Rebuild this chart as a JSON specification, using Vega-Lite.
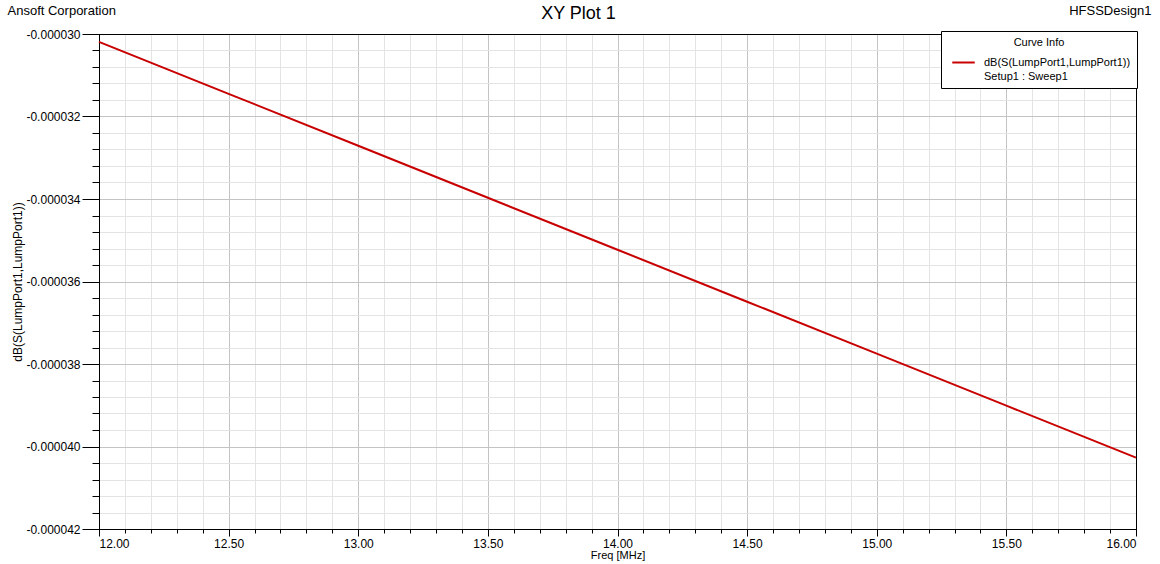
{
  "$schema": "https://vega.github.io/schema/vega-lite/v6.json",
  "width": 1037,
  "height": 495,
  "autosize": {"type": "none"},
  "padding": {"left": 99, "top": 34, "right": 24, "bottom": 35},
  "background": "white",
  "data": {"values": [
    {"freq": 12.0, "val": -0.00003019, "curve": "dB(S(LumpPort1,LumpPort1))"},
    {"freq": 12.5, "val": -0.00003145, "curve": "dB(S(LumpPort1,LumpPort1))"},
    {"freq": 13.0, "val": -0.00003271, "curve": "dB(S(LumpPort1,LumpPort1))"},
    {"freq": 13.5, "val": -0.00003397, "curve": "dB(S(LumpPort1,LumpPort1))"},
    {"freq": 14.0, "val": -0.00003523, "curve": "dB(S(LumpPort1,LumpPort1))"},
    {"freq": 14.5, "val": -0.00003649, "curve": "dB(S(LumpPort1,LumpPort1))"},
    {"freq": 15.0, "val": -0.00003775, "curve": "dB(S(LumpPort1,LumpPort1))"},
    {"freq": 15.5, "val": -0.00003901, "curve": "dB(S(LumpPort1,LumpPort1))"},
    {"freq": 16.0, "val": -0.00004027, "curve": "dB(S(LumpPort1,LumpPort1))"}
  ]},
  "config": {
    "view": {"stroke": "black", "strokeWidth": 1},
    "axis": {"labelFont": "Liberation Sans", "titleFont": "Liberation Sans", "labelColor": "black", "titleColor": "black", "titleFontWeight": "normal", "domainColor": "black", "tickColor": "black", "labelFontSize": 12}
  },
  "layer": [
    {
      "mark": {"type": "line", "opacity": 0},
      "encoding": {
        "x": {"field": "freq", "type": "quantitative", "scale": {"domain": [12, 16], "nice": false, "zero": false},
          "axis": {"orient": "bottom", "values": [12.1,12.2,12.3,12.4,12.6,12.7,12.8,12.9,13.1,13.2,13.3,13.4,13.6,13.7,13.8,13.9,14.1,14.2,14.3,14.4,14.6,14.7,14.8,14.9,15.1,15.2,15.3,15.4,15.6,15.7,15.8,15.9],
            "grid": true, "gridColor": "#e4e4e4", "gridWidth": 1, "gridOpacity": 1, "ticks": true, "tickSize": 4, "labels": false, "domain": false, "title": null}},
        "y": {"field": "val", "type": "quantitative", "scale": {"domain": [-0.000042, -0.00003], "nice": false, "zero": false},
          "axis": {"orient": "left", "values": [-0.0000416,-0.0000412,-0.0000408,-0.0000404,-0.0000396,-0.0000392,-0.0000388,-0.0000384,-0.0000376,-0.0000372,-0.0000368,-0.0000364,-0.0000356,-0.0000352,-0.0000348,-0.0000344,-0.0000336,-0.0000332,-0.0000328,-0.0000324,-0.0000316,-0.0000312,-0.0000308,-0.0000304],
            "grid": true, "gridColor": "#e4e4e4", "gridWidth": 1, "gridOpacity": 1, "ticks": true, "tickSize": 7, "labels": false, "domain": false,
            "title": "Ansoft Corporation", "titleFontSize": 13, "titleAngle": 0, "titleAnchor": "start", "titleAlign": "left", "titleX": -92, "titleY": -20, "titleBaseline": "alphabetic"}}
      }
    },
    {
      "mark": {"type": "line", "strokeWidth": 2},
      "encoding": {
        "x": {"field": "freq", "type": "quantitative", "scale": {"domain": [12, 16], "nice": false, "zero": false},
          "axis": {"orient": "bottom", "values": [12, 12.5, 13, 13.5, 14, 14.5, 15, 15.5, 16], "format": ".2f",
            "grid": true, "gridColor": {"condition": {"test": "datum.value == 12 || datum.value == 16", "value": "black"}, "value": "#c4c4c4"}, "gridWidth": 1, "gridOpacity": 1,
            "tickSize": 7, "labelPadding": 2, "labelFontSize": 12, "domain": true, "domainWidth": 1,
            "title": "Freq [MHz]", "titleFontSize": 11, "titleY": 29, "titleBaseline": "alphabetic"}},
        "y": {"field": "val", "type": "quantitative", "scale": {"domain": [-0.000042, -0.00003], "nice": false, "zero": false},
          "axis": {"orient": "left", "values": [-0.000042, -0.00004, -0.000038, -0.000036, -0.000034, -0.000032, -0.00003],
            "labelExpr": "'-' + format(abs(datum.value), '.6f')",
            "grid": true, "gridColor": {"condition": {"test": "datum.value == -0.000042 || datum.value == -0.00003", "value": "black"}, "value": "#c4c4c4"}, "gridWidth": 1, "gridOpacity": 1,
            "tickSize": 17, "labelPadding": 2, "labelFontSize": 12, "domain": true,
            "title": "dB(S(LumpPort1,LumpPort1))", "titleFontSize": 12, "titleX": -78, "titleY": 247.5, "titleAngle": 270, "titleBaseline": "alphabetic"}},
        "color": {"field": "curve", "type": "nominal",
          "scale": {"domain": ["dB(S(LumpPort1,LumpPort1))", "Setup1 : Sweep1"], "range": ["#c80000", "rgba(0,0,0,0)"]},
          "legend": {"orient": "none", "legendX": 842, "legendY": -3, "title": "Curve Info", "titleAnchor": "middle",
            "titleFont": "Liberation Sans", "titleFontSize": 11, "titleFontWeight": "normal", "titleColor": "black", "titlePadding": 6,
            "labelFont": "Liberation Sans", "labelFontSize": 11, "labelColor": "black", "labelLimit": 300,
            "strokeColor": "black", "fillColor": "white", "padding": 6,
            "symbolType": "M-1.5,0H1.5", "symbolSize": 225, "symbolStrokeWidth": 2, "symbolOffset": 8, "labelOffset": 12, "rowPadding": 0}}
      }
    },
    {
      "mark": {"type": "line", "opacity": 0},
      "encoding": {
        "x": {"field": "freq", "type": "quantitative", "scale": {"domain": [12, 16], "nice": false, "zero": false},
          "axis": {"orient": "top", "domain": true, "ticks": false, "labels": false, "grid": false,
            "title": "XY Plot 1", "titleFontSize": 18, "titleAnchor": "start", "titleAlign": "center", "titleX": 479, "titleY": -16, "titleBaseline": "alphabetic"}},
        "y": {"field": "val", "type": "quantitative", "scale": {"domain": [-0.000042, -0.00003], "nice": false, "zero": false}, "axis": null}
      }
    },
    {
      "mark": {"type": "line", "opacity": 0},
      "encoding": {
        "x": {"field": "freq", "type": "quantitative", "scale": {"domain": [12, 16], "nice": false, "zero": false}, "axis": null},
        "y": {"field": "val", "type": "quantitative", "scale": {"domain": [-0.000042, -0.00003], "nice": false, "zero": false},
          "axis": {"orient": "right", "domain": true, "ticks": false, "labels": false, "grid": false,
            "title": "HFSSDesign1", "titleFontSize": 13, "titleAngle": 0, "titleAlign": "right", "titleX": 15, "titleY": -20, "titleBaseline": "alphabetic"}}
      }
    }
  ],
  "resolve": {"axis": {"x": "independent", "y": "independent"}}
}
